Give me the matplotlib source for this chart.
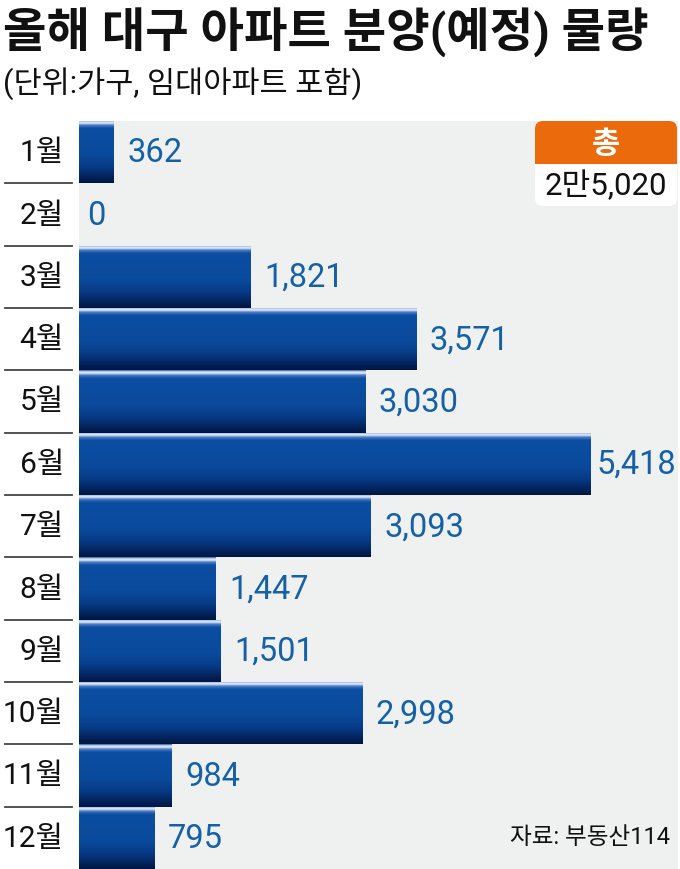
import matplotlib
matplotlib.use("Agg")
import matplotlib.pyplot as plt
import numpy as np
from matplotlib.colors import LinearSegmentedColormap
from matplotlib.patches import FancyBboxPatch, Rectangle
from matplotlib.transforms import blended_transform_factory

plt.rcParams['font.family'] = ['Roboto', 'Noto Sans CJK KR', 'DejaVu Sans']

# ---- data ----
months = ['1월', '2월', '3월', '4월', '5월', '6월', '7월', '8월', '9월', '10월', '11월', '12월']
values = [362, 0, 1821, 3571, 3030, 5418, 3093, 1447, 1501, 2998, 984, 795]
title = '올해 대구 아파트 분양(예정) 물량'
subtitle = '(단위:가구, 임대아파트 포함)'
total_label = '총'
total_value = '2만5,020'
source = '자료: 부동산114'

W, H = 680, 870
fig = plt.figure(figsize=(W / 100, H / 100), dpi=100)
fig.patch.set_facecolor('white')

ax_left, ax_right, ax_top, ax_bot = 79, 678, 122, 870
ax = fig.add_axes([ax_left / W, 1 - ax_bot / H, (ax_right - ax_left) / W, (ax_bot - ax_top) / H])
ax.set_facecolor('#eff0f0')
for s in ax.spines.values():
    s.set_visible(False)
ax.set_xticks([])
ax.set_yticks([])

ypos = np.arange(len(months))
bars = ax.barh(ypos, values, height=1.0, color='#0a4a9c', linewidth=0, zorder=2)

cmap = LinearSegmentedColormap.from_list('bar', [
    (0.00, '#1d55a5'),
    (0.02, '#b8ccee'),
    (0.045, '#e8eff9'),
    (0.08, '#4a7cc4'),
    (0.13, '#0b4ea2'),
    (0.55, '#0a4a9c'),
    (0.75, '#073a84'),
    (0.90, '#03245e'),
    (1.00, '#001640'),
])
grad = np.linspace(0, 1, 256).reshape(-1, 1)
for b, v in zip(bars, values):
    if v <= 0:
        continue
    x0, y0 = b.get_x(), b.get_y()
    w, h = b.get_width(), b.get_height()
    im = ax.imshow(grad, cmap=cmap, aspect='auto', extent=(x0, x0 + w, y0 + h, y0),
                   interpolation='bilinear', zorder=3)
    im.set_clip_path(b)

ax.set_xlim(0, (ax_right - ax_left) / 0.0944)
ax.set_ylim(len(months) - 0.5, -0.5)

vmax = max(values)
for y, v in zip(ypos, values):
    off = 4 if v == vmax else (6 if v == 0 else 10)
    ax.annotate(f'{v:,}', xy=(v, y), xytext=(off, 0), textcoords='offset points',
                ha='left', va='center', fontsize=23.5, color='#1560a8', zorder=5)

# month labels and separators
tr = blended_transform_factory(fig.transFigure, ax.transData)
for y, m in zip(ypos, months):
    ax.text(64 / W, y, m, transform=tr, ha='right', va='center', fontsize=21.5,
            color='#111111', clip_on=False)
for y in ypos[:-1]:
    ax.plot([5 / W, 72 / W], [y + 0.5, y + 0.5], transform=tr, color='#444444',
            lw=1.3, clip_on=False)

# overlay in pixel coordinates for decorations
ov = fig.add_axes([0, 0, 1, 1], zorder=10)
ov.set_xlim(0, W)
ov.set_ylim(H, 0)
ov.axis('off')
ov.patch.set_alpha(0)

ov.text(3, 33, title, ha='left', va='center', fontsize=34, fontweight='bold', color='#111111')
ov.text(3, 84, subtitle, ha='left', va='center', fontsize=22, color='#111111')

bx0, bx1, by0, bmid, by1 = 535, 677, 122, 165, 207
ov.add_patch(FancyBboxPatch((bx0 + 8, by0 + 8), bx1 - bx0 - 16, by1 - by0 - 16,
                            boxstyle='round,pad=8', fc='white', ec='none'))
ov.add_patch(FancyBboxPatch((bx0 + 8, by0 + 8), bx1 - bx0 - 16, bmid - by0 - 16,
                            boxstyle='round,pad=8', fc='#ea6a0c', ec='none'))
ov.add_patch(Rectangle((bx0, bmid - 14), bx1 - bx0, 14, fc='#ea6a0c', ec='none'))
ov.text((bx0 + bx1) / 2, (by0 + bmid) / 2 + 1, total_label, ha='center', va='center',
        fontsize=22, fontweight='bold', color='white')
ov.text((bx0 + bx1) / 2, (bmid + by1) / 2, total_value, ha='center', va='center',
        fontsize=22.5, color='#111111')

ov.text(670, 838, source, ha='right', va='center', fontsize=17, color='#111111')

fig.savefig('out.png', dpi=100, facecolor='white')
